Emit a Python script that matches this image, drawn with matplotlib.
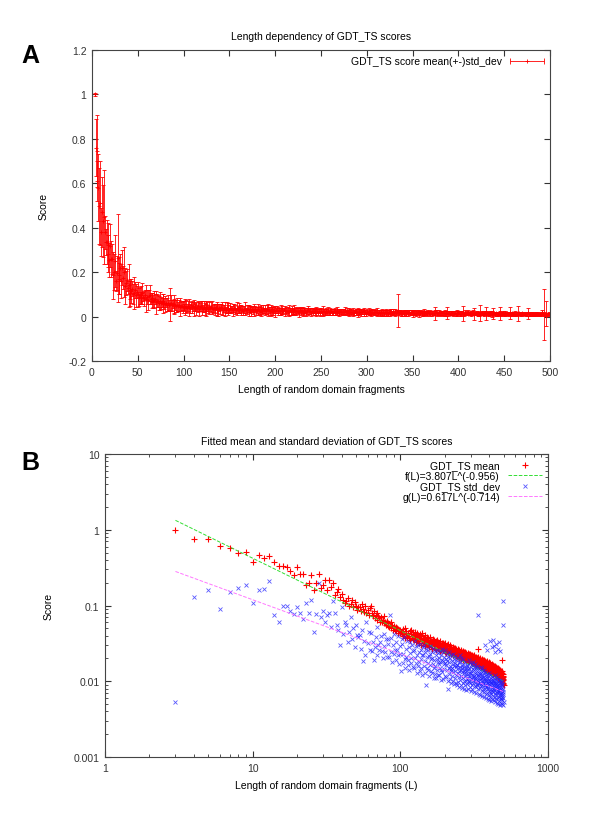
import numpy as np
import matplotlib
matplotlib.use("Agg")
import matplotlib.pyplot as plt
from matplotlib.container import ErrorbarContainer
from matplotlib.legend_handler import HandlerErrorbar

plt.rcParams['font.family'] = ['Liberation Sans', 'DejaVu Sans']

# fragment lengths L = 3 .. 500
lengths = np.arange(3, 501)

# GDT_TS mean per length, in units of 1e-4
mean_e4 = [
    10000, 7600, 7450, 6100, 5800, 5000, 5100, 3800, 4700, 4300,
    4500, 3800, 3360, 3350, 3230, 2830, 2560, 3200, 2600, 2600,
    1850, 2000, 2500, 1600, 1970, 2640, 1700, 1850, 2200, 1600,
    2200, 1750, 2000, 1370, 1500, 1650, 1300, 1400, 1200, 1070,
    1150, 1250, 1000, 1060, 1180, 950, 1100, 1000, 880, 960,
    960, 850, 1050, 900, 820, 980, 800, 870, 760, 940,
    980, 800, 720, 850, 690, 760, 800, 650, 720, 690,
    610, 700, 610, 650, 580, 720, 600, 560, 630, 540,
    590, 520, 550, 600, 500, 560, 480, 530, 510, 470,
    520, 460, 500, 440, 490, 470, 430, 480, 450, 420,
    452, 398, 488, 421, 375, 503, 437, 466, 389, 415,
    430, 372, 401, 458, 347, 419, 475, 390, 362, 441,
    352, 409, 381, 447, 330, 395, 366, 428, 402, 341,
    388, 321, 417, 356, 374, 305, 398, 340, 429, 365,
    318, 371, 345, 294, 402, 336, 359, 311, 383, 327,
    348, 301, 372, 329, 283, 355, 317, 386, 294, 338,
    297, 340, 268, 323, 361, 289, 314, 352, 276, 331,
    315, 262, 339, 290, 306, 354, 271, 298, 327, 283,
    269, 312, 295, 248, 336, 281, 302, 259, 321, 290,
    298, 255, 281, 324, 262, 270, 309, 243, 288, 316,
    251, 279, 237, 302, 266, 289, 245, 311, 258, 274,
    271, 233, 260, 298, 242, 279, 253, 226, 287, 249,
    236, 268, 251, 219, 283, 243, 262, 229, 275, 240,
    259, 221, 244, 277, 230, 252, 213, 268, 235, 247,
    218, 249, 236, 270, 211, 241, 228, 259, 204, 238,
    240, 209, 231, 262, 216, 250, 199, 227, 244, 213,
    205, 236, 221, 193, 254, 212, 229, 201, 240, 218,
    227, 196, 214, 246, 203, 222, 188, 235, 208, 217,
    193, 223, 209, 184, 238, 201, 215, 190, 229, 206,
    214, 185, 203, 231, 192, 208, 177, 221, 197, 212,
    181, 207, 196, 225, 172, 199, 215, 187, 203, 179,
    202, 175, 191, 219, 181, 195, 168, 209, 186, 197,
    171, 198, 186, 163, 212, 180, 192, 169, 204, 177,
    190, 264, 175, 206, 166, 184, 161, 199, 173, 187,
    163, 189, 178, 201, 158, 176, 192, 155, 182, 168,
    181, 157, 172, 196, 152, 167, 185, 160, 175, 190,
    154, 178, 163, 149, 192, 170, 158, 183, 147, 168,
    172, 150, 165, 187, 144, 161, 177, 153, 168, 140,
    148, 171, 159, 183, 142, 166, 151, 174, 137, 160,
    164, 141, 157, 178, 136, 150, 169, 145, 160, 133,
    140, 162, 151, 131, 173, 146, 157, 136, 165, 148,
    156, 134, 149, 169, 128, 143, 160, 138, 152, 124,
    132, 153, 144, 164, 124, 139, 157, 129, 147, 136,
    149, 127, 140, 159, 121, 135, 152, 130, 143, 118,
    124, 145, 136, 154, 117, 131, 149, 121, 140, 128,
    141, 119, 132, 150, 113, 127, 144, 118, 135, 123,
    116, 137, 128, 145, 110, 122, 140, 113, 131, 119,
    131, 109, 124, 141, 104, 118, 134, 112, 127, 100,
    105, 124, 115, 136, 98, 111, 127, 102, 190, 109,
    114, 96, 108, 125, 92, 103, 118, 89,
]

# GDT_TS standard deviation per length, units of 1e-4
std_e4 = [
    53, 1290, 1620, 900, 1510, 1710, 1890, 1080, 1580, 1630,
    2110, 750, 600, 1000, 1000, 840, 770, 960, 800, 670,
    1080, 800, 1170, 450, 770, 2000, 700, 850, 600, 750,
    800, 520, 1130, 800, 550, 480, 300, 950, 420, 600,
    550, 330, 450, 700, 360, 500, 280, 550, 410, 380,
    410, 270, 480, 185, 340, 220, 600, 320, 450, 260,
    430, 250, 330, 190, 280, 380, 220, 520, 300, 260,
    330, 390, 250, 200, 420, 290, 240, 360, 210, 310,
    360, 210, 740, 370, 240, 180, 300, 420, 230, 260,
    330, 190, 260, 400, 220, 170, 290, 230, 137, 360,
    310, 175, 232, 385, 198, 150, 268, 212, 345, 165,
    190, 280, 142, 236, 330, 172, 205, 298, 155, 248,
    262, 148, 340, 201, 175, 288, 130, 225, 305, 160,
    180, 240, 138, 310, 195, 262, 150, 222, 120, 285,
    225, 160, 300, 128, 245, 185, 270, 90, 210, 150,
    142, 255, 176, 215, 118, 290, 162, 230, 135, 198,
    240, 130, 205, 168, 275, 112, 190, 150, 252, 126,
    160, 222, 110, 195, 260, 140, 180, 120, 238, 170,
    205, 122, 248, 150, 178, 105, 225, 140, 190, 268,
    132, 185, 240, 108, 170, 212, 145, 255, 118, 175,
    198, 114, 162, 232, 140, 185, 100, 80, 210, 150,
    125, 178, 240, 108, 160, 205, 135, 96, 220, 145,
    185, 118, 150, 228, 102, 168, 132, 196, 92, 160,
    110, 172, 138, 215, 95, 155, 190, 122, 165, 88,
    162, 98, 205, 128, 148, 85, 180, 115, 138, 220,
    105, 152, 178, 90, 140, 200, 118, 160, 82, 132,
    148, 95, 170, 112, 195, 128, 80, 155, 102, 138,
    88, 140, 118, 182, 100, 150, 125, 76, 165, 108,
    135, 92, 160, 112, 78, 145, 125, 188, 98, 118,
    102, 150, 85, 128, 175, 95, 138, 112, 74, 155,
    130, 88, 168, 108, 122, 80, 145, 100, 178, 115,
    95, 140, 118, 72, 155, 105, 128, 86, 170, 110,
    125, 84, 148, 98, 115, 70, 135, 92, 160, 104,
    88, 740, 120, 100, 150, 78, 112, 68, 130, 95,
    118, 82, 140, 96, 66, 125, 105, 155, 86, 110,
    92, 130, 75, 112, 148, 88, 64, 120, 98, 135,
    115, 80, 102, 140, 72, 95, 125, 62, 108, 88,
    78, 300, 110, 90, 132, 68, 100, 120, 84, 60,
    105, 86, 125, 70, 96, 260, 112, 78, 58, 100,
    82, 118, 95, 65, 108, 130, 74, 92, 56, 102,
    100, 72, 340, 88, 120, 62, 95, 80, 110, 55,
    68, 98, 84, 115, 280, 75, 92, 58, 105, 80,
    90, 350, 72, 100, 64, 112, 82, 290, 56, 95,
    76, 102, 62, 88, 120, 240, 70, 95, 54, 84,
    92, 66, 310, 78, 105, 58, 86, 72, 115, 52,
    70, 95, 82, 270, 60, 100, 75, 88, 50, 108,
    84, 62, 330, 72, 96, 55, 80, 105, 68, 48,
    66, 90, 76, 250, 58, 85, 70, 98, 52, 78,
    80, 60, 92, 66, 74, 50, 88, 62, 102, 56,
    72, 1160, 60, 560, 80, 48, 68, 54,
]

# fitted power laws shown in the legend
F_A, F_B = 3.807, -0.956
G_A, G_B = 0.617, -0.714

assert len(mean_e4) == len(lengths) and len(std_e4) == len(lengths)
mean = np.array(mean_e4) / 1e4
std = np.array(std_e4) / 1e4

fig = plt.figure(figsize=(6, 8.2), dpi=100)
FS = 7.5

# ---- panel A ----
axA = fig.add_axes([0.1533, 0.5585, 0.7633, 0.3793])
axA.errorbar(lengths, mean, yerr=std, fmt='+', color='red', ms=3, mew=0.6,
             elinewidth=0.6, capsize=1.6, capthick=0.6)
# legend-only handle: gnuplot draws the sample as a horizontal error bar
axA.errorbar([np.nan], [np.nan], xerr=[1.0], fmt='+', color='red', ms=3,
             mew=0.6, elinewidth=0.6, capsize=2, capthick=0.6,
             label="GDT_TS score mean(+-)std_dev")
axA.set_xlim(0, 500)
axA.set_ylim(-0.2, 1.2)
axA.set_xticks(np.arange(0, 501, 50))
axA.set_yticks(np.arange(-0.2, 1.21, 0.2))
axA.set_yticklabels(['-0.2', '0', '0.2', '0.4', '0.6', '0.8', '1', '1.2'])
axA.set_title("Length dependency of GDT_TS scores", fontsize=FS, pad=8)
axA.set_xlabel("Length of random domain fragments", fontsize=FS, labelpad=5)
axA.set_ylabel("Score", fontsize=FS, labelpad=14)
axA.legend(loc='upper right', frameon=False, markerfirst=False, fontsize=FS,
           handlelength=3.2, borderaxespad=0.2, numpoints=1,
           handler_map={ErrorbarContainer: HandlerErrorbar(xerr_size=1.6)})

# ---- panel B ----
axB = fig.add_axes([0.175, 0.0756, 0.7383, 0.3695])
axB.plot(lengths, mean, '+', color='#ff0000', ms=4.5, mew=0.8,
         label="GDT_TS mean")
axB.plot(lengths, F_A * lengths ** F_B, '--', color='#33dd33', lw=0.7,
         label="f(L)=3.807L^(-0.956)")
axB.plot(lengths, std, 'x', color='#2020ff', ms=3.5, mew=0.6, alpha=0.75,
         label="GDT_TS std_dev")
axB.plot(lengths, G_A * lengths ** G_B, '--', color='#ff77ff', lw=0.7,
         label="g(L)=0.617L^(-0.714)")
axB.set_xscale('log')
axB.set_yscale('log')
axB.set_xlim(1, 1000)
axB.set_ylim(0.001, 10)
axB.set_xticks([1, 10, 100, 1000])
axB.set_xticklabels(['1', '10', '100', '1000'])
axB.set_yticks([0.001, 0.01, 0.1, 1, 10])
axB.set_yticklabels(['0.001', '0.01', '0.1', '1', '10'])
axB.set_title("Fitted mean and standard deviation of GDT_TS scores",
              fontsize=FS, pad=8)
axB.set_xlabel("Length of random domain fragments (L)", fontsize=FS,
               labelpad=5)
axB.set_ylabel("Score", fontsize=FS, labelpad=14)
axB.legend(loc='upper right', frameon=False, markerfirst=False, fontsize=FS,
           handlelength=3.2, borderaxespad=0.2, labelspacing=0.05,
           numpoints=1)

for ax in (axA, axB):
    ax.tick_params(which='both', direction='in', top=True, right=True,
                   labelsize=FS, colors='#333333', pad=4)
    ax.tick_params(which='major', length=4)
    ax.tick_params(which='minor', length=2)
    for s in ax.spines.values():
        s.set_linewidth(0.8)
        s.set_color('#444444')

fig.text(0.05, 0.932, "A", fontsize=18, fontweight='bold', ha='center',
         va='center')
fig.text(0.05, 0.435, "B", fontsize=18, fontweight='bold', ha='center',
         va='center')

fig.savefig("out.png", dpi=100)
